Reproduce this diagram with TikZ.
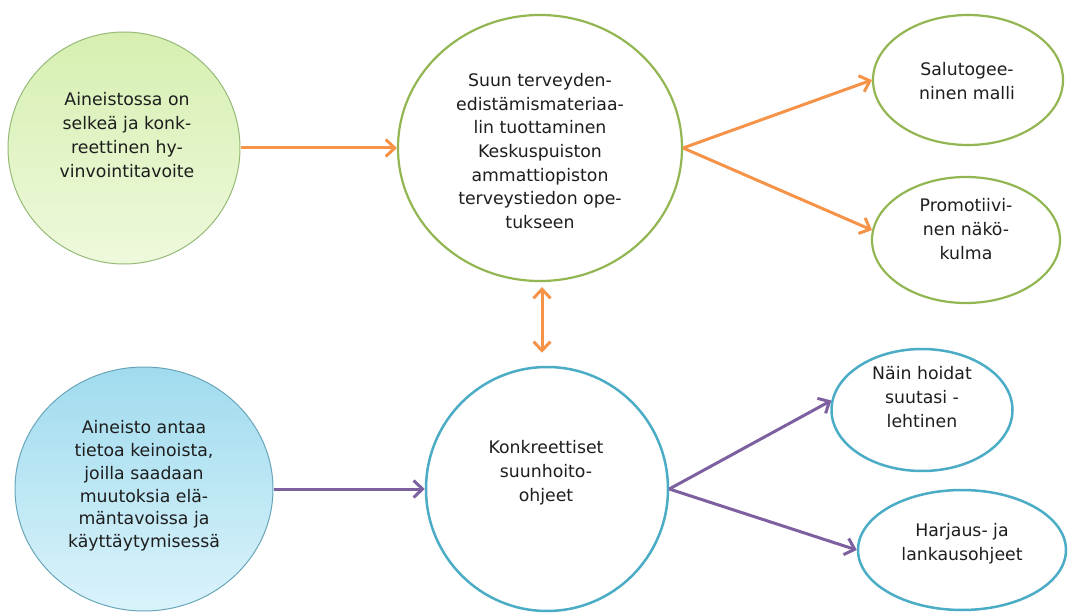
\documentclass[tikz,border=0pt]{standalone}
\usepackage{fontspec}
\setmainfont{DejaVu Sans}
\usetikzlibrary{arrows.meta,shapes.geometric}

\definecolor{ringgreen}{RGB}{146,183,82}
\definecolor{ringteal}{RGB}{75,172,198}
\definecolor{softgreen}{RGB}{150,185,120}
\definecolor{softblue}{RGB}{105,165,185}
\definecolor{greentop}{RGB}{214,239,176}
\definecolor{greenbot}{RGB}{238,249,220}
\definecolor{bluetop}{RGB}{160,219,238}
\definecolor{bluebot}{RGB}{218,243,251}
\definecolor{linkorange}{RGB}{245,148,72}
\definecolor{linkpurple}{RGB}{125,96,160}
\definecolor{inkgray}{RGB}{30,30,30}

\begin{document}
\begin{tikzpicture}[x=1pt,y=-1pt,
  bubble/.style={ellipse, inner sep=0pt},
  goalbubble/.style={bubble, draw=softgreen, line width=1pt, top color=greentop, bottom color=greenbot},
  meansbubble/.style={bubble, draw=softblue, line width=1pt, top color=bluetop, bottom color=bluebot},
  greenring/.style={bubble, draw=ringgreen, line width=2.2pt, fill=white},
  tealring/.style={bubble, draw=ringteal, line width=2.5pt, fill=white},
  txt/.style={align=center, text=inkgray, font=\fontsize{17.3}{24}\selectfont},
  orangelink/.style={draw=linkorange, line width=3pt, -{Straight Barb[length=9pt,width=17pt]}},
  purplelink/.style={draw=linkpurple, line width=3pt, -{Straight Barb[length=9pt,width=17pt]}}]

\useasboundingbox (0,0) rectangle (1069,615);

% left column: aims
\node[goalbubble, minimum width=232pt, minimum height=232pt] (g1) at (124,148) {};
\node[txt] (g1t) at (127,135) {Aineistossa on\\selkeä ja konk-\\reettinen hy-\\vinvointitavoite};

\node[meansbubble, minimum width=258pt, minimum height=244pt] (b1) at (144,489) {};
\node[txt, font=\fontsize{17.3}{22.8}\selectfont] (b1t) at (144,486) {Aineisto antaa\\tietoa keinoista,\\joilla saadaan\\muutoksia elä-\\mäntavoissa ja\\käyttäytymisessä};

% central column
\node[greenring, minimum width=284pt, minimum height=266pt] (m1) at (540,148) {};
\node[txt, font=\fontsize{17.3}{23.7}\selectfont] (m1t) at (540,151) {Suun terveyden-\\edistämismateriaa-\\lin tuottaminen\\Keskuspuiston\\ammattiopiston\\terveystiedon ope-\\tukseen};

\node[tealring, minimum width=242pt, minimum height=244pt] (k1) at (547,489) {};
\node[txt] (k1t) at (546,473) {Konkreettiset\\suunhoito-\\ohjeet};

% right column
\node[greenring, minimum width=190pt, minimum height=130pt] (s1) at (968,80) {};
\node[txt] (s1t) at (967,81) {Salutogee-\\ninen malli};

\node[greenring, minimum width=188pt, minimum height=126pt] (p1) at (966,240) {};
\node[txt] (p1t) at (966,229) {Promotiivi-\\nen näkö-\\kulma};

\node[tealring, minimum width=181pt, minimum height=122pt] (n1) at (922,410) {};
\node[txt] (n1t) at (922,397) {Näin hoidat\\suutasi -\\lehtinen};

\node[tealring, minimum width=208pt, minimum height=120pt] (h1) at (962,550) {};
\node[txt] (h1t) at (962,544) {Harjaus- ja\\lankausohjeet};

% connectors
\draw[orangelink] (g1.east) -- (m1.west);
\draw[orangelink] (m1.east) -- (s1.west);
\draw[orangelink] (m1.east) -- (p1.174);

\coordinate (axis) at (542,0);
\draw[draw=linkorange, line width=3pt, {Straight Barb[length=9pt,width=17pt]}-{Straight Barb[length=9pt,width=17pt]}, shorten <=5pt, shorten >=13pt]
  (m1.south -| axis) -- (k1.north -| axis);

\draw[purplelink] (b1.east) -- (k1.west);
\draw[purplelink] (k1.east) -- (n1.174);
\draw[purplelink] (k1.east) -- (h1.west);
\end{tikzpicture}
\end{document}
